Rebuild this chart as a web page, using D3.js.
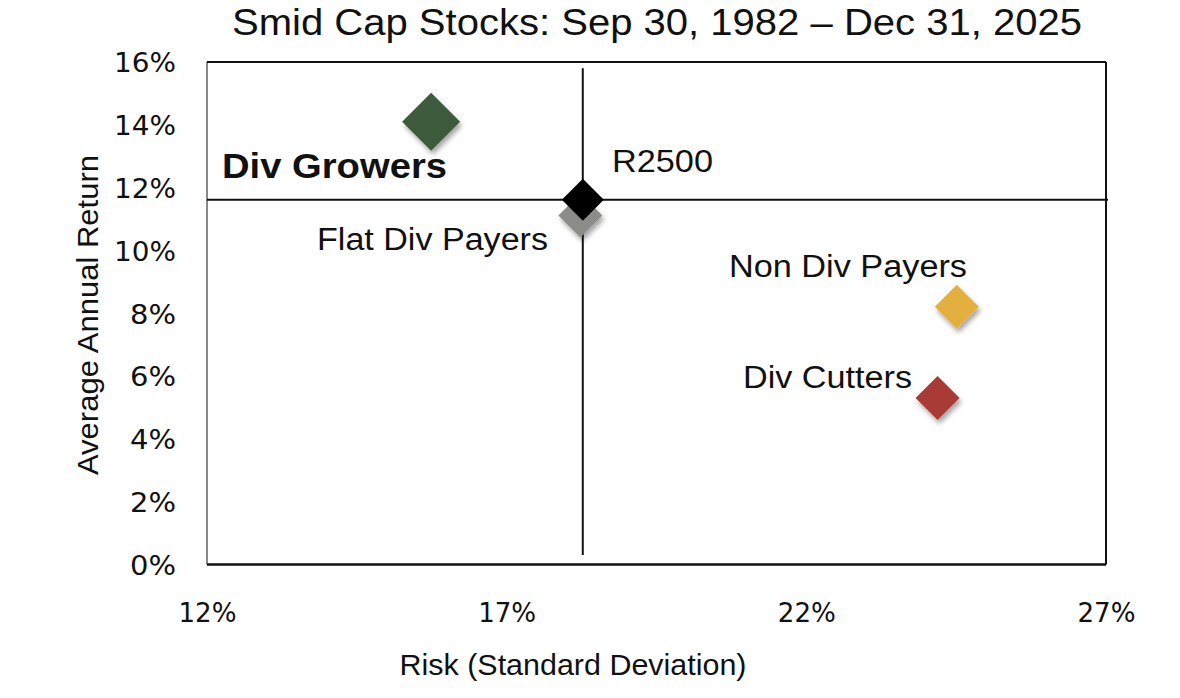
<!DOCTYPE html>
<html><head><meta charset="utf-8">
<script src="https://cdn.jsdelivr.net/npm/d3@7"></script>
<style>
body{margin:0;background:#fff;}
text{font-family:"Liberation Sans",Arial,sans-serif;fill:#111;}
</style></head>
<body>
<svg id="c" width="1180" height="698"></svg>
<script>
const groups = ["Div Growers","R2500","Flat Div Payers","Non Div Payers","Div Cutters"];
const risk   = [15.74, 18.27, 18.23, 24.51, 24.19];
const ret    = [14.10, 11.61, 11.11, 8.21, 5.30];
const colors = ["#3d5a3e","#000000","#8c8c88","#e3b040","#a83a35"];
const xTicks = [12,17,22,27];
const yTicks = [0,2,4,6,8,10,12,14,16];
const title = "Smid Cap Stocks: Sep 30, 1982 \u2013 Dec 31, 2025";
const xTitle = "Risk (Standard Deviation)";
const yTitle = "Average Annual Return";

const svg = d3.select("#c");
const L=207, R=1106, T=62, B=564.5;
const x = d3.scaleLinear().domain([12,27]).range([L,R]);
const y = d3.scaleLinear().domain([0,16]).range([B,T]);

const defs = svg.append("defs");
const f = defs.append("filter").attr("id","sh").attr("x","-50%").attr("y","-50%").attr("width","200%").attr("height","200%");
f.append("feDropShadow").attr("dx",2).attr("dy",4).attr("stdDeviation",2.5).attr("flood-color","#000").attr("flood-opacity",0.35);

// title
svg.append("text").attr("x",657).attr("y",35).attr("text-anchor","middle")
  .attr("font-size",36).attr("textLength",850).attr("lengthAdjust","spacingAndGlyphs").text(title);

// frame
svg.append("line").attr("x1",L).attr("x2",L).attr("y1",T).attr("y2",B).attr("stroke","#888").attr("stroke-width",2);
svg.append("line").attr("x1",L).attr("x2",R).attr("y1",T).attr("y2",T).attr("stroke","#111").attr("stroke-width",2);
svg.append("line").attr("x1",R).attr("x2",R).attr("y1",T).attr("y2",B).attr("stroke","#111").attr("stroke-width",2);
svg.append("line").attr("x1",L).attr("x2",R).attr("y1",B).attr("y2",B).attr("stroke","#111").attr("stroke-width",2.5);

// axes tick labels
const xa = d3.axisBottom(x).tickValues(xTicks).tickSize(0).tickPadding(0).tickFormat(d=>d+"%");
const gx = svg.append("g").attr("transform",`translate(0,${B+57})`).call(xa);
gx.select(".domain").remove();
gx.selectAll("text").attr("font-size",27).attr("fill","#1a1a1a").attr("dy","0").style("font-family","'DejaVu Sans',sans-serif").attr("textLength",58).attr("lengthAdjust","spacingAndGlyphs");

const ya = d3.axisLeft(y).tickValues(yTicks).tickSize(0).tickPadding(0).tickFormat(d=>d+"%");
const gy = svg.append("g").attr("transform",`translate(176,0)`).call(ya);
gy.select(".domain").remove();
gy.selectAll("text").attr("font-size",26).attr("fill","#1a1a1a").attr("dy","0.38em").style("font-family","'DejaVu Sans',sans-serif")
  .attr("textLength",d=>d>=10?62:46).attr("lengthAdjust","spacingAndGlyphs");

// axis titles
svg.append("text").attr("x",573).attr("y",675).attr("text-anchor","middle").attr("font-size",29).attr("textLength",347).attr("lengthAdjust","spacingAndGlyphs").text(xTitle);
svg.append("text").attr("transform","translate(98,315) rotate(-90)").attr("text-anchor","middle").attr("font-size",29).attr("textLength",320).attr("lengthAdjust","spacingAndGlyphs").text(yTitle);

// crosshair at R2500
const ri = groups.indexOf("R2500");
svg.append("line").attr("x1",x(risk[ri])).attr("x2",x(risk[ri])).attr("y1",y(15.8)).attr("y2",y(0.3)).attr("stroke","#111").attr("stroke-width",2);
svg.append("line").attr("x1",L).attr("x2",R+2).attr("y1",y(ret[ri])).attr("y2",y(ret[ri])).attr("stroke","#111").attr("stroke-width",2);

// diamonds
const sizes = [29,21,22,22,22];
const order = [0,2,1,3,4];
order.forEach(i=>{
  const cx=x(risk[i]), cy=y(ret[i]), s=sizes[i];
  svg.append("path").attr("d",`M${cx},${cy-s}L${cx+s},${cy}L${cx},${cy+s}L${cx-s},${cy}Z`)
    .attr("fill",colors[i]).attr("filter", i===1? null : "url(#sh)");
});

// labels
const lab = [
  {t:"Div Growers", x:222, y:178, a:"start", s:35, w:"bold", len:225},
  {t:"R2500", x:612, y:172, a:"start", s:31, w:"normal", len:101},
  {t:"Flat Div Payers", x:317, y:250, a:"start", s:31, w:"normal", len:231},
  {t:"Non Div Payers", x:729, y:277, a:"start", s:31, w:"normal", len:238},
  {t:"Div Cutters", x:743, y:388, a:"start", s:31, w:"normal", len:169}
];
lab.forEach(l=>svg.append("text").attr("x",l.x).attr("y",l.y).attr("text-anchor",l.a)
  .attr("font-size",l.s).attr("font-weight",l.w).attr("textLength",l.len).attr("lengthAdjust","spacingAndGlyphs").text(l.t));
</script>
</body></html>
